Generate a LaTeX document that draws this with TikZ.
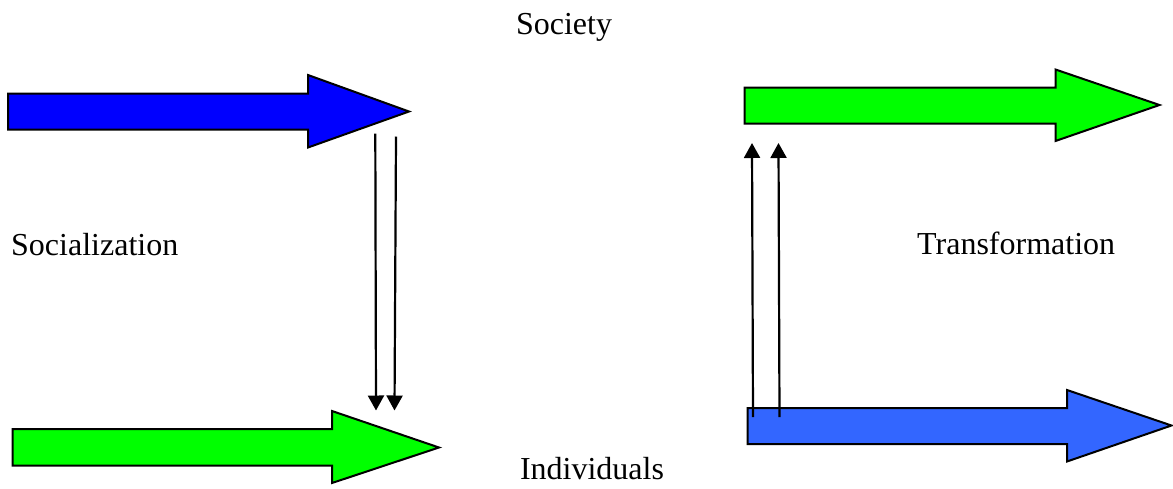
\documentclass[tikz,border=0pt]{standalone}
\usepackage{fontspec}
\setmainfont{Liberation Serif}
\usetikzlibrary{arrows.meta}
\definecolor{pureblue}{RGB}{0,0,255}
\definecolor{puregreen}{RGB}{0,255,0}
\definecolor{lightblue}{RGB}{51,102,255}
\begin{document}
\begin{tikzpicture}[x=1pt,y=-1pt,
  bigarrow/.style={draw=black,line width=2pt,line join=miter},
  link/.style={draw=black,line width=2.2pt,-{Triangle[width=16pt,length=15pt]}},
  lbl/.style={font=\fontsize{32}{37}\selectfont,inner sep=0pt,anchor=base}]
\useasboundingbox (0,0) rectangle (1173,488);
% top-left blue arrow
\path[bigarrow,fill=pureblue] (8,93.5) -- (308,93.5) -- (308,75) -- (409,111.5) -- (308,147.5) -- (308,129.5) -- (8,129.5) -- cycle;
% bottom-left green arrow
\path[bigarrow,fill=puregreen] (12.5,429) -- (332,429) -- (332,411) -- (439,447.5) -- (332,483) -- (332,465.5) -- (12.5,465.5) -- cycle;
% top-right green arrow
\path[bigarrow,fill=puregreen] (744.5,87.5) -- (1055.5,87.5) -- (1055.5,69.5) -- (1159.5,105) -- (1055.5,141) -- (1055.5,123.5) -- (744.5,123.5) -- cycle;
% bottom-right blue arrow
\path[bigarrow,fill=lightblue] (747.5,408) -- (1067,408) -- (1067,390) -- (1171.5,425.5) -- (1067,461.5) -- (1067,444) -- (747.5,444) -- cycle;
% connector end points
\coordinate (a1s) at (375.3,133.5);
\coordinate (a1e) at (376,410.5);
\coordinate (a2s) at (396,136.5);
\coordinate (a2e) at (394.5,410.5);
\coordinate (b1s) at (753,417);
\coordinate (b1e) at (752,143);
\coordinate (b2s) at (779.5,417);
\coordinate (b2e) at (778.5,143);
\draw[link] (a1s) -- (a1e);
\draw[link] (a2s) -- (a2e);
\draw[link] (b1s) -- (b1e);
\draw[link] (b2s) -- (b2e);
% labels
\node[lbl] (society) at (564,34) {Society};
\node[lbl,anchor=base west] (socialization) at (11,255) {Socialization};
\node[lbl,anchor=base west] (transformation) at (917,254) {Transformation};
\node[lbl] (individuals) at (592,479) {Individuals};
\end{tikzpicture}
\end{document}
